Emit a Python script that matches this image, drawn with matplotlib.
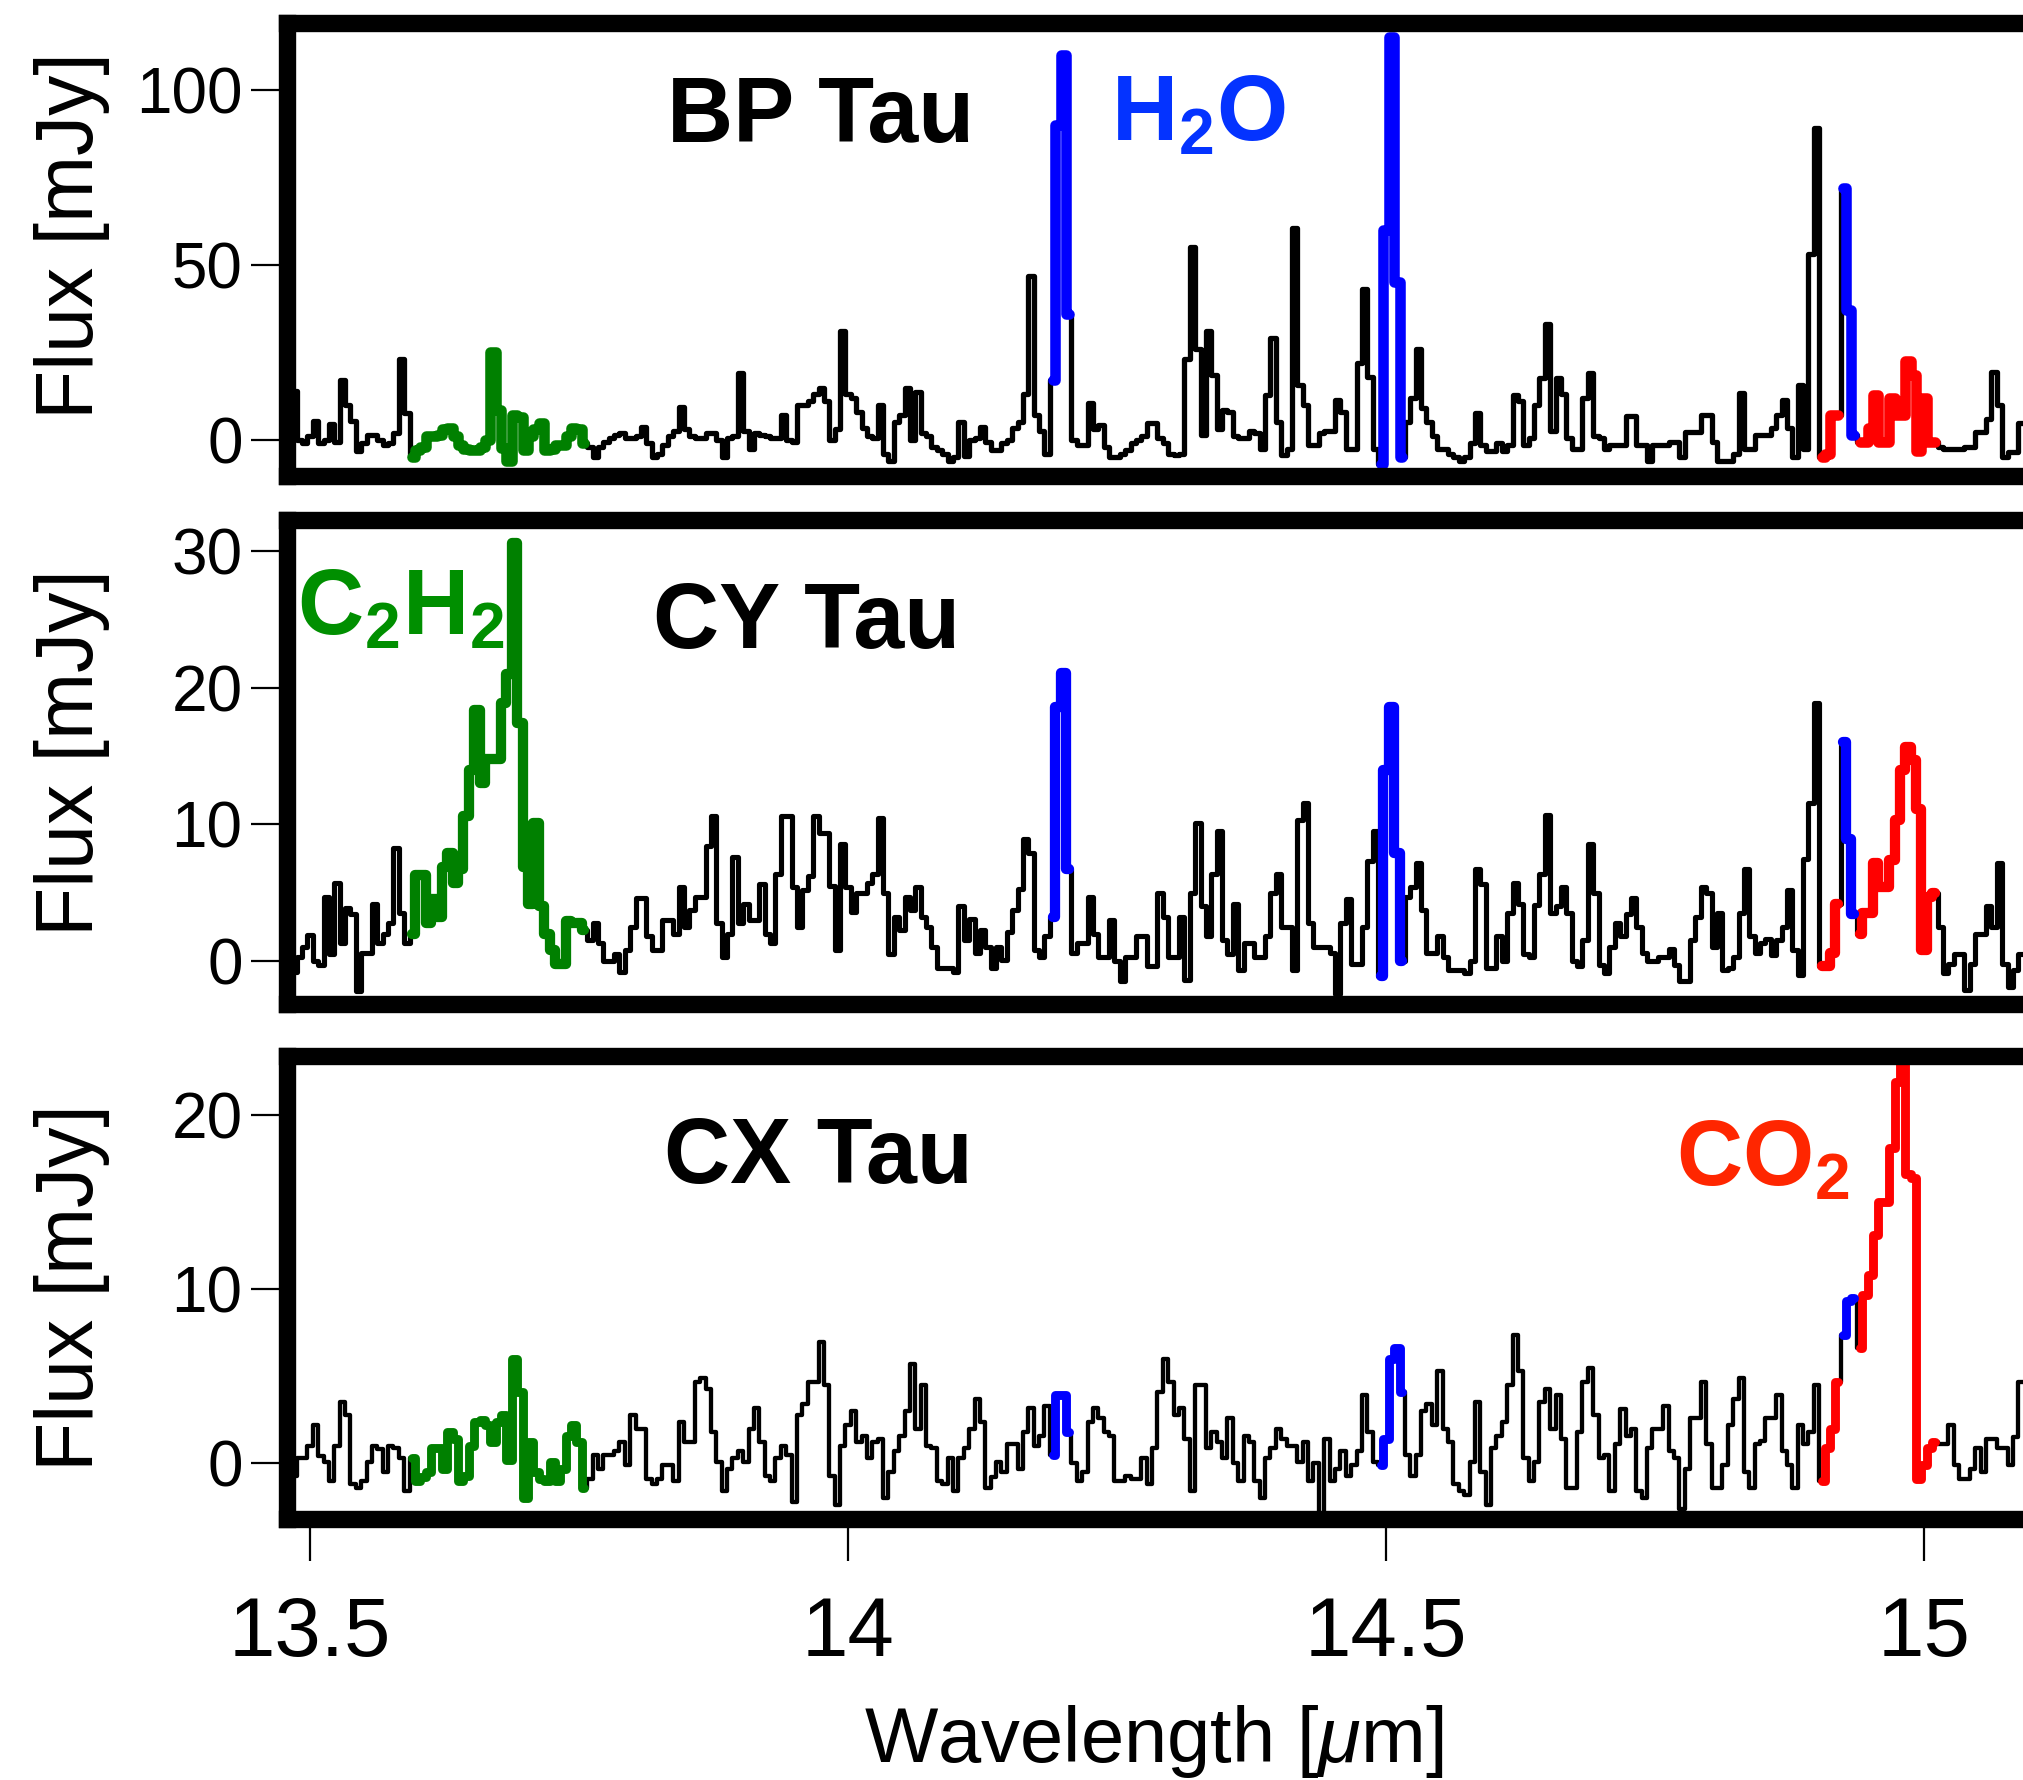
"""
MIRI spectra of BP Tau, CY Tau and CX Tau around 13.5-15 um,
with the C2H2, H2O and CO2 features highlighted.
"""

import numpy as np
import matplotlib
matplotlib.use("Agg")
import matplotlib.pyplot as plt
from matplotlib.ticker import FormatStrFormatter

plt.rcParams["font.family"] = ["Liberation Sans", "DejaVu Sans"]
plt.rcParams["mathtext.fontset"] = "custom"
plt.rcParams["mathtext.rm"] = "Liberation Sans"
plt.rcParams["mathtext.it"] = "Liberation Sans:italic"
plt.rcParams["mathtext.bf"] = "Liberation Sans:bold"

# wavelength grid of the spectra [um]
WL_START = 13.475
WL_STEP = 0.005

# flux [mJy], one value per wavelength bin
bp_tau = [
    0, 30, 14, 0, -1, 1, 5.5, -1, 0, 4.5,
    -0.5, 17, 10, 5.5, -3.3, -1, 1.4, 1.4, 0, -1.4,
    -1, 2, 23, 7.6, -5, -3, -2, 1, 1, 1.5,
    3, 3.3, 1, -1.4, -2.5, -3, -3, -2, 0, 25,
    8.6, -2.4, -6, 7, 6.5, -3, 1, 3, 4.8, -3,
    -2.5, -1.5, -1.5, 1, 3.3, 3, -1, -2, -4.8, -2,
    -0.5, 0.5, 1.5, 1.9, 0.5, 0.5, 1, 3.8, -1, -5,
    -4, -1.5, 1, 2.5, 9.5, 3, 1, 0.5, 0.5, 2,
    2, 0, -5, 0.5, 1, 19, 2.5, -2.5, 2, 1.5,
    1, 0.5, 0.5, 7, 0, -0.5, 10, 10, 11, 13,
    14.8, 11, 0, 3, 31, 13, 12, 8, 3.5, 1,
    0.5, 10, -4, -6, 5, 7, 14.8, 0, 13.8, 2,
    1, -2, -3, -4, -6, -5, 5, -4.5, 0, 0.5,
    3.8, -0.5, -3, -3, -1, 0, 3.3, 5, 13, 46.7,
    7, 2.5, -4, 17, 90, 110, 36, 0, -1.5, -1.5,
    10.5, 3, 4.3, -2, -5, -5, -4, -3, -1, 0,
    1, 4.8, 4.8, 0.5, -1, -4, -4.3, -4, 23, 55,
    26, 1.5, 31, 18.6, 3, 8.6, 8, 1, 0.5, 0.5,
    2.5, 2, -2.5, 12.9, 29, 5, -4.3, -2.5, 60.5, 15.7,
    10, -1.5, -1.5, 2, 2.5, 2.5, 11.4, 8, -2.5, -2.5,
    22, 43, 18, -2.5, -7, 60, 115, 45, -5, 5,
    12, 26, 9, 5, 1, -2.5, -2.5, -4, -5, -6,
    -5, -1, 7.6, -1.5, -3.3, -3.3, -1, -3.3, -1.5, 12.9,
    11, -1.5, 0.5, 10, 17.6, 33, 2.5, 17.6, 13, 0.5,
    -2.5, -2.5, 11.9, 19, 1, 0.5, -2.5, -1.5, -1.5, -1.5,
    6.7, 6.7, -1.5, -1.5, -6, -1.5, -1.5, -1.5, -0.5, -0.5,
    -4.8, 2.4, 2.4, 2.4, 7, 7, -0.5, -6, -6, -6,
    -4, 13.3, -2.5, -2.5, 1.5, 1.5, 1.5, 3.3, 7, 11.4,
    3.3, -5, 15.7, -2.5, 53, 89, -5, -4, 7, 7,
    72, 37, 1.4, -0.5, -0.5, 3.3, 12.9, -0.5, -0.5, 11.9,
    7, 7, 22.4, 18.6, -3.3, 12, -0.5, -0.5, -2, -2.5,
    -2.5, -2.5, -2.5, -2, -2, 2.4, 2.4, 6, 19.5, 10,
    -5, -3.5, -3.5, 4.8,
]

cy_tau = [
    -1, -1, -0.8, 0.3, 1, 1.9, 0, -0.3, 4.7, 0.5,
    5.7, 1.3, 3.9, 3.4, -2.2, 0.6, 0.6, 4.2, 1.3, 2,
    2.8, 8.3, 3.5, 1.3, 2, 6.3, 6.3, 2.8, 4.5, 3.2,
    6.9, 7.9, 5.7, 6.7, 10.6, 14, 18.4, 13, 14.8, 14.8,
    14.8, 18.9, 21, 30.6, 17.4, 6.9, 4.2, 10.1, 4, 2,
    0.8, -0.2, -0.2, 2.9, 2.8, 2.8, 2.3, 1.5, 2.8, 1.3,
    0, 0, 0.5, -0.8, 0.8, 2.5, 4.6, 4.6, 1.8, 0.8,
    0.8, 3, 3, 2, 5.4, 2.5, 3.7, 4.7, 4.7, 8.4,
    10.6, 2.8, 0.3, 2, 7.6, 2.8, 4.2, 3, 3, 5.6,
    2, 1.3, 6.4, 10.6, 10.6, 5.4, 2.5, 5.2, 6.2, 10.6,
    9.4, 9.4, 5.5, 0.8, 8.6, 5.4, 3.6, 5, 5, 5.7,
    6.4, 10.5, 5, 0.5, 3.2, 2.3, 4.7, 3.7, 5.4, 3.2,
    2.5, 1, -0.5, -0.5, -0.5, -0.8, 4, 1.5, 3.1, 0.6,
    2.3, 1, -0.5, 1, 0.1, 2.1, 3.7, 5.3, 8.9, 7.9,
    0.8, 0.3, 1.8, 3.2, 18.6, 21.1, 6.7, 0.6, 1.3, 1.3,
    4.7, 2, 0.3, 0.3, 3, 0, -1.5, 0.3, 0.3, 1.8,
    1.8, -0.4, -0.4, 5, 3.2, 0.3, 0.3, 3.2, -1.4, 5,
    10.1, 4, 1.8, 6.4, 9.5, 1.5, 0.5, 4.2, -0.7, 1.3,
    1.3, 0.3, 0.3, 1.8, 5, 6.4, 2.5, 2.5, -0.7, 10.3,
    11.6, 2.8, 1, 1, 1, 0.6, -2.4, 2.8, 4.5, -0.2,
    -0.2, 2.5, 7.3, 9.5, -1.1, 14, 18.6, 7.9, 0, 4.7,
    5.4, 7.2, 3.7, 0.6, 0.6, 1.8, 0.3, -0.7, -0.7, -0.7,
    -0.9, 0, 6.7, 5.6, -0.5, -0.5, 1.8, 0, 3.5, 5.7,
    4.2, 0.5, 0.3, 4.1, 6.4, 10.7, 3.5, 4, 5.4, 3.5,
    0, -0.4, 1.5, 8.6, 5, -0.3, -0.9, 1, 2.8, 1.8,
    3.4, 4.6, 2.5, 0.6, 0, 0, 0.3, 0.3, 0.9, -0.3,
    -1.5, -1.5, 1.5, 3.2, 5.4, 5, 1, 3.5, -0.7, -0.5,
    0.3, 3.5, 6.7, 1.8, 0.6, 1.3, 1.6, 0.4, 1.5, 2.5,
    5.2, 0.8, -1, 7.5, 11.6, 18.9, -0.4, -0.4, 0.6, 4.2,
    16, 8.9, 3.4, 2, 3.5, 3.5, 7.2, 5.4, 5.4, 7.4,
    10.3, 14, 15.7, 14.7, 11.1, 0.8, 4.7, 5, 2.5, -0.9,
    -0.2, 0.5, 0.5, -2.1, -0.2, 2, 2, 4, 2.5, 7.2,
    -0.2, -1.9, -0.7, 0.5,
]

cx_tau = [
    -0.7, -0.7, -0.7, 0.3, 0.3, 1, 2.2, 0.4, 0.1, -1,
    1, 3.5, 2.8, -1.2, -1.4, -1, 0.1, 1, 0.8, -0.5,
    1, 0.9, 0.3, -1.6, 0.3, -1, -0.8, -0.5, 0.9, 0.9,
    -0.3, 1.8, 1.4, -1, -0.7, 1, 2.4, 2.5, 2.2, 1.2,
    2.4, 2.8, 0.2, 6, 4.1, -2, 1.2, -0.5, -0.9, -1,
    0.1, -1, -0.3, 1.6, 2.2, 1.2, -1.4, -0.9, 0.5, -0.3,
    0.5, 0.5, 0.7, 1.2, -0.1, 2.8, 2, 2, -0.9, -1.2,
    -0.9, -0.1, -0.1, -1, 2.4, 1.2, 1.2, 4.7, 4.9, 4.3,
    1.8, 0.1, -1.6, -0.3, 0.3, 0.7, 0.1, 2, 3.2, 1.2,
    -0.7, -1, 0.3, 1, 0.5, -2.2, 2.8, 3.4, 4.7, 4.7,
    7, 4.5, -0.7, -2.4, 1, 2.2, 3, 1.2, 1.6, 0.3,
    1.2, 1.4, -2, -0.5, 0.7, 1.6, 3, 5.7, 2, 4.5,
    1, 0.9, -1, -1.2, 0.3, -1.6, 0.3, 0.9, 2, 3.7,
    2.4, -1.4, -0.8, 0.1, -0.5, 1.1, 1.1, -0.3, 1.8, 3.2,
    1, 1.6, 3.3, 0.5, 3.9, 3.9, 1.8, 0, -1, -0.5,
    2.4, 3.2, 2.6, 1.8, 1.6, -1, -1, -0.7, -0.9, -0.9,
    0.3, -1.2, 0.9, 4.1, 6, 4.7, 2.8, 3.2, 1.4, -1.6,
    4.5, 4.5, 0.9, 1.8, 1.2, 0.3, 2.6, 0, -1, 1.6,
    1.2, -1, -2, 0.3, 0.9, 2, 1.4, 1, 1, 0.1,
    1.2, -1, 0, -3, 1.4, -1, -0.3, 0.7, -0.7, -0.1,
    0.7, 3.9, 1.8, 0.1, -0.1, 1.4, 6, 6.6, 4.1, 0.5,
    -0.7, 0.5, 3, 3.4, 2.2, 5.3, 2, 1.2, -1.2, -1.6,
    -1.8, 0.1, 3.5, -0.5, -2.4, 0.9, 1.6, 2.4, 4.5, 7.4,
    5.3, 0.3, -1, 0.1, 3.5, 4.3, 2, 3.9, 1.4, -1.4,
    -1.4, 1.8, 4.7, 5.5, 2.8, 0.3, 0.5, -1.6, 1.1, 3.1,
    1.6, 2, -1.6, -2, 0.9, 2, 2, 3.3, 0.7, 0.3,
    -2.6, -0.3, 2.6, 2.6, 4.7, 1.1, -1.4, -1.4, -0.1, 2.2,
    3.7, 4.9, -0.5, -1.4, 1.1, 1.3, 2.6, 2.6, 3.9, 0.7,
    -0.1, -1.4, 2.2, 1.1, 1.8, 4.5, -1, 0.9, 2, 4.7,
    7.4, 9.3, 9.5, 6.6, 9.7, 10.8, 13.1, 15, 15, 18.1,
    21.9, 23.5, 16.6, 16.4, -0.9, -0.1, 0.9, 1.2, 1.1, 1.1,
    2.2, -0.1, -0.9, -0.9, -0.3, 0.9, -0.5, 1.4, 1.4, 0.9,
    0.9, -0.1, 1.5, 4.7,
]

# wavelength windows [um] highlighted for each molecule
c2h2_windows = [(13.595, 13.755)]
h2o_windows = [(14.190, 14.205), (14.495, 14.515), (14.925, 14.935)]
co2_windows = [(14.905, 14.920), (14.940, 15.010)]

star_names = ["BP Tau", "CY Tau", "CX Tau"]
y_ticks = [[0, 50, 100], [0, 10, 20, 30], [0, 10, 20]]
y_limits = [(-10.3, 119.1), (-3.15, 32.3), (-3.2, 23.4)]
x_ticks = [13.5, 14, 14.5, 15]
X_MIN, X_MAX = 13.4786, 15.1293


def overlay(ax, wl, flux, windows, color, lw):
    for lo, hi in windows:
        m = (wl > lo - 1e-6) & (wl < hi + 1e-6)
        ax.step(wl[m], flux[m], where="mid", color=color, lw=lw,
                solid_capstyle="round", solid_joinstyle="round", zorder=2.2)


fig = plt.figure(figsize=(20.23, 17.80), dpi=100)

# [left, bottom, width, height] -- right edge runs off the figure like the original
boxes = [
    [0.1419, 0.7326, 0.878, 0.2545],
    [0.1419, 0.4360, 0.878, 0.2719],
    [0.1419, 0.1466, 0.878, 0.2601],
]
label_y = [0.53, 0.52, 0.50]
black_lw = [3.8, 3.7, 3.1]
color_lw = [7.6, 7.4, 6.4]

axes = []
for k, flux in enumerate([bp_tau, cy_tau, cx_tau]):
    ax = fig.add_axes(boxes[k])
    flux = np.asarray(flux, dtype=float)
    wl = WL_START + WL_STEP * np.arange(len(flux))

    ax.step(wl, flux, where="mid", color="black", lw=black_lw[k], zorder=2.1)
    overlay(ax, wl, flux, c2h2_windows, "#008000", color_lw[k])
    overlay(ax, wl, flux, co2_windows, "#ff0000", color_lw[k])
    overlay(ax, wl, flux, h2o_windows, "#0000ff", color_lw[k])

    ax.set_xlim(X_MIN, X_MAX)
    ax.set_ylim(*y_limits[k])
    ax.set_yticks(y_ticks[k])
    for sp in ax.spines.values():
        sp.set_linewidth(12.5)
    ax.tick_params(axis="y", direction="out", length=26, width=1.6, pad=6,
                   labelsize=46, right=False)
    ax.set_ylabel("Flux [mJy]", fontsize=58)
    ax.yaxis.set_label_coords(-0.0997, label_y[k])
    axes.append(ax)

for ax in axes[:2]:
    ax.tick_params(axis="x", bottom=False, top=False, labelbottom=False)

ax3 = axes[2]
ax3.set_xticks(x_ticks)
ax3.xaxis.set_major_formatter(FormatStrFormatter("%g"))
ax3.tick_params(axis="x", direction="out", length=30, width=1.6, pad=25,
                labelsize=60, top=False)
ax3.set_xlabel(r"Wavelength [$\mu$m]", fontsize=56)
ax3.xaxis.set_label_coords(0.488, -0.397)

# star names
axes[0].text(13.974, 85.2, star_names[0], ha="center", va="baseline",
             fontsize=66, fontweight="bold")
axes[1].text(13.961, 22.9, star_names[1], ha="center", va="baseline",
             fontsize=66, fontweight="bold")
axes[2].text(13.972, 16.1, star_names[2], ha="center", va="baseline",
             fontsize=66, fontweight="bold")

# molecule labels
axes[0].text(14.325, 85.6, r"$\mathbf{H_2O}$", ha="center", va="baseline",
             fontsize=66, color="#0433ff")
axes[1].text(13.584, 23.9, r"$\mathbf{C_2H_2}$", ha="center", va="baseline",
             fontsize=66, color="#008f00")
axes[2].text(14.850, 16.0, r"$\mathbf{CO_2}$", ha="center", va="baseline",
             fontsize=66, color="#ff2600")

fig.savefig("out.png", dpi=100)
